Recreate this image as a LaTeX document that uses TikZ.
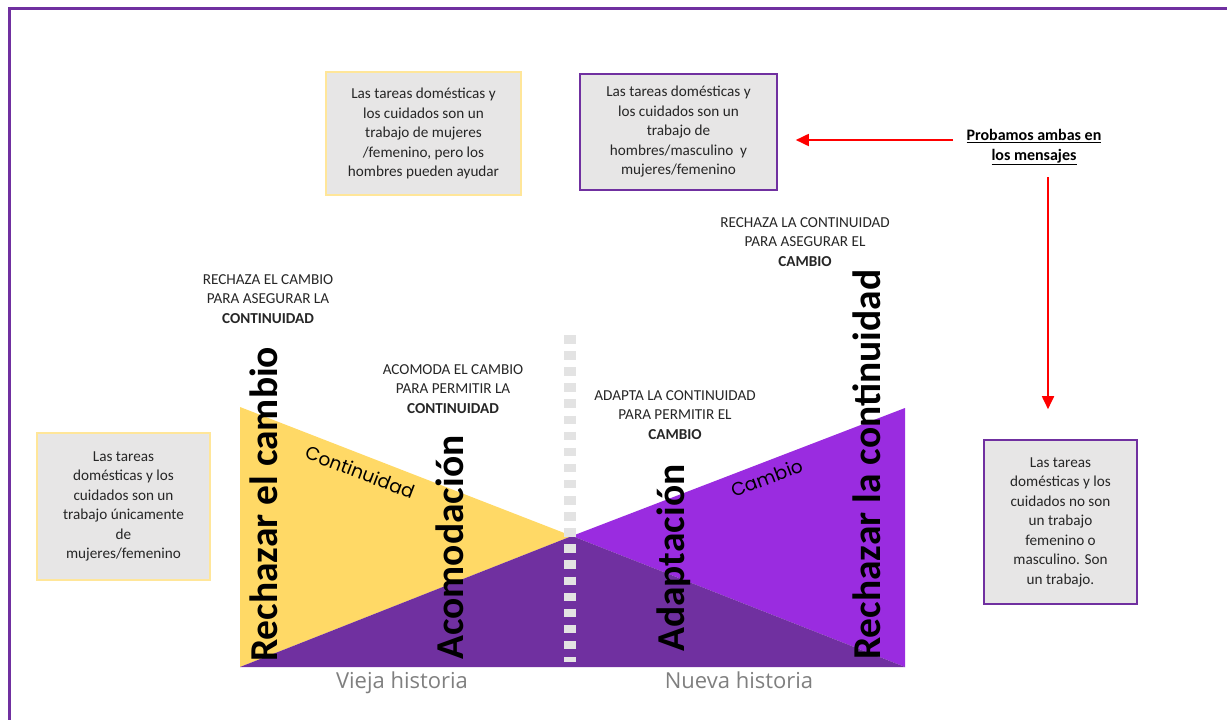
\documentclass[tikz,border=0pt]{standalone}
\usepackage{fontspec}
\setmainfont{Carlito}
\newfontfamily\opensans{Open Sans}
\newfontfamily\poppins{Poppins}
\usetikzlibrary{arrows.meta}

\definecolor{boxgray}{HTML}{E7E6E6}
\definecolor{goldline}{HTML}{FFE699}
\definecolor{goldfill}{HTML}{FFD966}
\definecolor{deeppurple}{HTML}{7030A0}
\definecolor{brightpurple}{HTML}{9A2CE0}
\definecolor{dashgray}{HTML}{E3E3E3}
\definecolor{inkgray}{HTML}{262626}
\definecolor{eragray}{HTML}{7F7F7F}

\begin{document}
\begin{tikzpicture}[
  x=1pt, y=-1pt,
  font=\fontsize{15.2}{19.5}\selectfont,
  card/.style={
    rectangle,
    draw=#1,
    fill=boxgray,
    line width=1.6pt,
    align=center,
    text=inkgray
  },
  card/.default=deeppurple,
  caption/.style={
    align=center,
    text=inkgray
  },
  stance/.style={
    rotate=90,
    anchor=base west,
    inner sep=0pt,
    font=\fontsize{39.5}{39.5}\selectfont\bfseries
  },
  slant/.style={
    font=\poppins\fontsize{18.5}{18.5}\selectfont,
    inner sep=0pt
  },
  era/.style={
    font=\opensans\fontsize{22}{26}\selectfont,
    text=eragray
  },
  flow/.style={
    -{Triangle[length=13pt,width=12pt]},
    draw=red,
    line width=1.8pt
  },
  frameline/.style={
    draw=deeppurple,
    line width=3pt
  }
]
\useasboundingbox (0,0) rectangle (1227,720);

% --- Frame -----------------------------------------------------------

\draw[frameline] (9.5,720) -- (9.5,8.5) -- (1227,8.5);

% --- Triangles -------------------------------------------------------

\coordinate (tl) at (240,407);
\coordinate (bl) at (240,667);
\coordinate (mid) at (572,536);
\coordinate (tr) at (905,408);
\coordinate (br) at (905,667);

\fill[goldfill] (tl) -- (bl) -- (mid) -- cycle;
\fill[brightpurple] (mid) -- (tr) -- (br) -- cycle;
\fill[deeppurple] (bl) -- (mid) -- (br) -- cycle;

% Old / new story divider
\draw[dashgray, line width=12pt, dash pattern=on 8.5pt off 7.6pt]
  (570,335) -- (570,662);

% --- Stances ---------------------------------------------------------

\node[stance] (rejchange) at (277,662) {Rechazar el cambio};
\node[stance] (accom) at (463,660) {Acomodación};
\node[stance] (adapt) at (684,652) {Adaptación};
\node[stance] (rejcont) at (880,660) {Rechazar la continuidad};

\node[slant, rotate=-21] (contlabel) at (360,472) {Continuidad};
\node[slant, rotate=21] (changelabel) at (767,478) {Cambio};

% --- Captions --------------------------------------------------------

\node[caption] (caprc) at (268,299)
{RECHAZA EL CAMBIO\\PARA ASEGURAR LA\\\textbf{CONTINUIDAD}};

\node[caption] (capac) at (453,389)
{ACOMODA EL CAMBIO\\PARA PERMITIR LA\\\textbf{CONTINUIDAD}};

\node[caption] (capad) at (675,415)
{ADAPTA LA CONTINUIDAD\\PARA PERMITIR EL\\\textbf{CAMBIO}};

\node[caption] (caprk) at (805,242)
{RECHAZA LA CONTINUIDAD\\PARA ASEGURAR EL\\\textbf{CAMBIO}};

% --- Message boxes ---------------------------------------------------

\node[card=goldline, minimum width=195pt, minimum height=123pt] (helpbox)
  at (423.5,133.5)
{Las tareas domésticas y\\los cuidados son un\\trabajo de mujeres\\/femenino, pero los\\hombres pueden ayudar};

\node[card, minimum width=197pt, minimum height=116pt] (bothbox)
  at (678.5,132)
{Las tareas domésticas y\\los cuidados son un\\trabajo de\\hombres/masculino\ \ y\\mujeres/femenino};

\node[card=goldline, minimum width=173pt, minimum height=147pt] (onlybox)
  at (123.5,506.5)
{Las tareas\\domésticas y los\\cuidados son un\\trabajo únicamente\\de\\mujeres/femenino};

\node[card, minimum width=153pt, minimum height=164pt] (workbox)
  at (1060.5,522)
{Las tareas\\domésticas y los\\cuidados no son\\un trabajo\\femenino o\\masculino. Son\\un trabajo.};

\node[caption, font=\fontsize{16}{20}\selectfont\bfseries, text=black] (tested)
  at (1034,147)
{\underline{Probamos ambas en}\\\underline{los mensajes}};

% --- Flows -----------------------------------------------------------

\draw[flow, shorten <=10pt, shorten >=18pt]
  ([yshift=7pt]tested.west) -- ([yshift=7pt]tested.west -| bothbox.east);
\draw[flow, shorten <=9pt, shorten >=30pt]
  ([xshift=14pt]tested.south) -- ([xshift=14pt]tested.south |- workbox.north);

% --- Story labels ----------------------------------------------------

\node[era] (oldstory) at (402,683) {Vieja historia};
\node[era] (newstory) at (739,680) {Nueva historia};

\end{tikzpicture}
\end{document}
